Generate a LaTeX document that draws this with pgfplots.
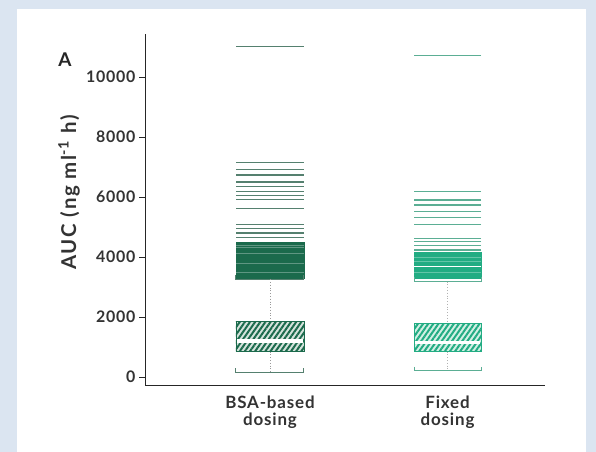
\documentclass[border=0pt]{standalone}
\usepackage{pgfplots}
\pgfplotsset{compat=1.18}
\usepackage{fontspec}
\setmainfont{Lato}
\newfontfamily\wide[LetterSpace=5]{Lato}
\newfontfamily\wider[LetterSpace=8]{Lato}
\usetikzlibrary{patterns.meta}
\definecolor{bgblue}{HTML}{DBE5F1}
\definecolor{bsa}{HTML}{1B6A4C}
\definecolor{bsaline}{HTML}{55806F}
\definecolor{bsalight}{HTML}{D5E3DC}
\definecolor{fix}{HTML}{22AC83}
\definecolor{fixline}{HTML}{5BAE94}
\definecolor{fixlight}{HTML}{D3F0E5}
\begin{document}
\begin{tikzpicture}[x=1bp,y=1bp]
\useasboundingbox (0,0) rectangle (596,452);
\fill[bgblue] (0,0) rectangle (596,452);
\fill[white] (17,0) rectangle (586,443);
\node[font=\bfseries\fontsize{19}{19}\selectfont, text=black!85, anchor=center] at (65,392) {A};
\begin{axis}[
  at={(145bp,66bp)}, anchor=south west,
  scale only axis, width=400bp, height=352bp,
  xmin=0.296, xmax=2.549, ymin=-300, ymax=11430,
  axis lines*=left,
  axis line style={line width=1bp, black!85},
  xtick={1,2},
  xticklabels={BSA-based\\dosing, Fixed\\dosing},
  xticklabel style={align=center, font=\wide\bfseries\fontsize{17}{17.5}\selectfont, text=black!80},
  x tick style={draw=none},
  ytick={0,2000,4000,6000,8000,10000},
  y tick style={black!85, line width=0.8bp},
  tick align=outside, major tick length=6bp,
  yticklabel style={font=\wide\bfseries\fontsize{16}{16}\selectfont, text=black!80},
  /pgf/number format/assume math mode=true,
  /pgf/number format/.cd, set thousands separator={}, /pgfplots/.cd,
  scaled y ticks=false,
  ylabel={AUC (ng ml\textsuperscript{-1} h)},
  ylabel style={at={(axis description cs:-0.19,0.55)}, anchor=center, font=\wider\bfseries\fontsize{20.5}{20.5}\selectfont, text=black!80},
  clip=false,
]
% ---------- BSA-based dosing ----------
\addplot[fill=bsa, draw=bsa, line width=0.5bp] coordinates {(0.8085,3290) (1.1915,3290) (1.1915,4480) (0.8085,4480)} --cycle;
\addplot[only marks, mark=-, mark size=34bp, mark options={draw=white, opacity=0.3, line width=0.8bp}] coordinates {(1,4400) (1,4330) (1,4130) (1,3800) (1,3470)};
\addplot[only marks, mark=-, mark size=34bp, mark options={draw=bsaline, line width=1.2bp}] coordinates {
(1,11000) (1,7150) (1,6920) (1,6730) (1,6500) (1,6350) (1,6170) (1,6040) (1,5920) (1,5620) (1,5070) (1,4960) (1,4800) (1,4660)};
\addplot[bsaline, line width=1bp] coordinates {(0.8085,3400) (0.8085,3260) (1.1915,3260) (1.1915,3400)};
\addplot[bsaline, line width=1bp] coordinates {(0.8085,290) (0.8085,143) (1.1915,143) (1.1915,290)};
\addplot[black!40, dotted, line width=0.8bp] coordinates {(1,3260) (1,1843)};
\addplot[black!40, dotted, line width=0.8bp] coordinates {(1,843) (1,143)};
\addplot[fill=bsalight, draw=bsa, line width=0.6bp] coordinates {(0.8085,843) (1.1915,843) (1.1915,1843) (0.8085,1843)} --cycle;
\addplot[draw=bsa, line width=0.6bp, pattern={Lines[angle=55,distance=4.2bp,line width=2bp]}, pattern color=bsa] coordinates {(0.8085,843) (1.1915,843) (1.1915,1843) (0.8085,1843)} --cycle;
\addplot[only marks, mark=-, mark size=33bp, mark options={draw=white, line width=3.5bp}] coordinates {(1,1200)};
% ---------- Fixed dosing ----------
\addplot[fill=fix, draw=fix, line width=0.5bp] coordinates {(1.8113,3280) (2.1887,3280) (2.1887,4150) (1.8113,4150)} --cycle;
\addplot[only marks, mark=-, mark size=33.5bp, mark options={draw=white, opacity=0.3, line width=0.8bp}] coordinates {(2,4000) (2,3850) (2,3470)};
\addplot[only marks, mark=-, mark size=33.5bp, mark options={draw=white, line width=1.2bp}] coordinates {(2,3680)};
\addplot[only marks, mark=-, mark size=33.5bp, mark options={draw=fixline, line width=1.2bp}] coordinates {
(2,10700) (2,6180) (2,5900) (2,5730) (2,5510) (2,5320) (2,5070) (2,4620) (2,4510) (2,4370) (2,4230)};
\addplot[fixline, line width=1bp] coordinates {(1.8113,3320) (1.8113,3180) (2.1887,3180) (2.1887,3320)};
\addplot[fixline, line width=1bp] coordinates {(1.8113,340) (1.8113,200) (2.1887,200) (2.1887,340)};
\addplot[black!30, dotted, line width=0.8bp] coordinates {(2,3180) (2,1780)};
\addplot[black!30, dotted, line width=0.8bp] coordinates {(2,843) (2,200)};
\addplot[fill=fixlight, draw=fix, line width=0.6bp] coordinates {(1.8113,843) (2.1887,843) (2.1887,1780) (1.8113,1780)} --cycle;
\addplot[draw=fix, line width=0.6bp, pattern={Lines[angle=55,distance=4.2bp,line width=2bp]}, pattern color=fix] coordinates {(1.8113,843) (2.1887,843) (2.1887,1780) (1.8113,1780)} --cycle;
\addplot[only marks, mark=-, mark size=32.5bp, mark options={draw=white, line width=3.5bp}] coordinates {(2,1150)};
\end{axis}
\end{tikzpicture}
\end{document}
